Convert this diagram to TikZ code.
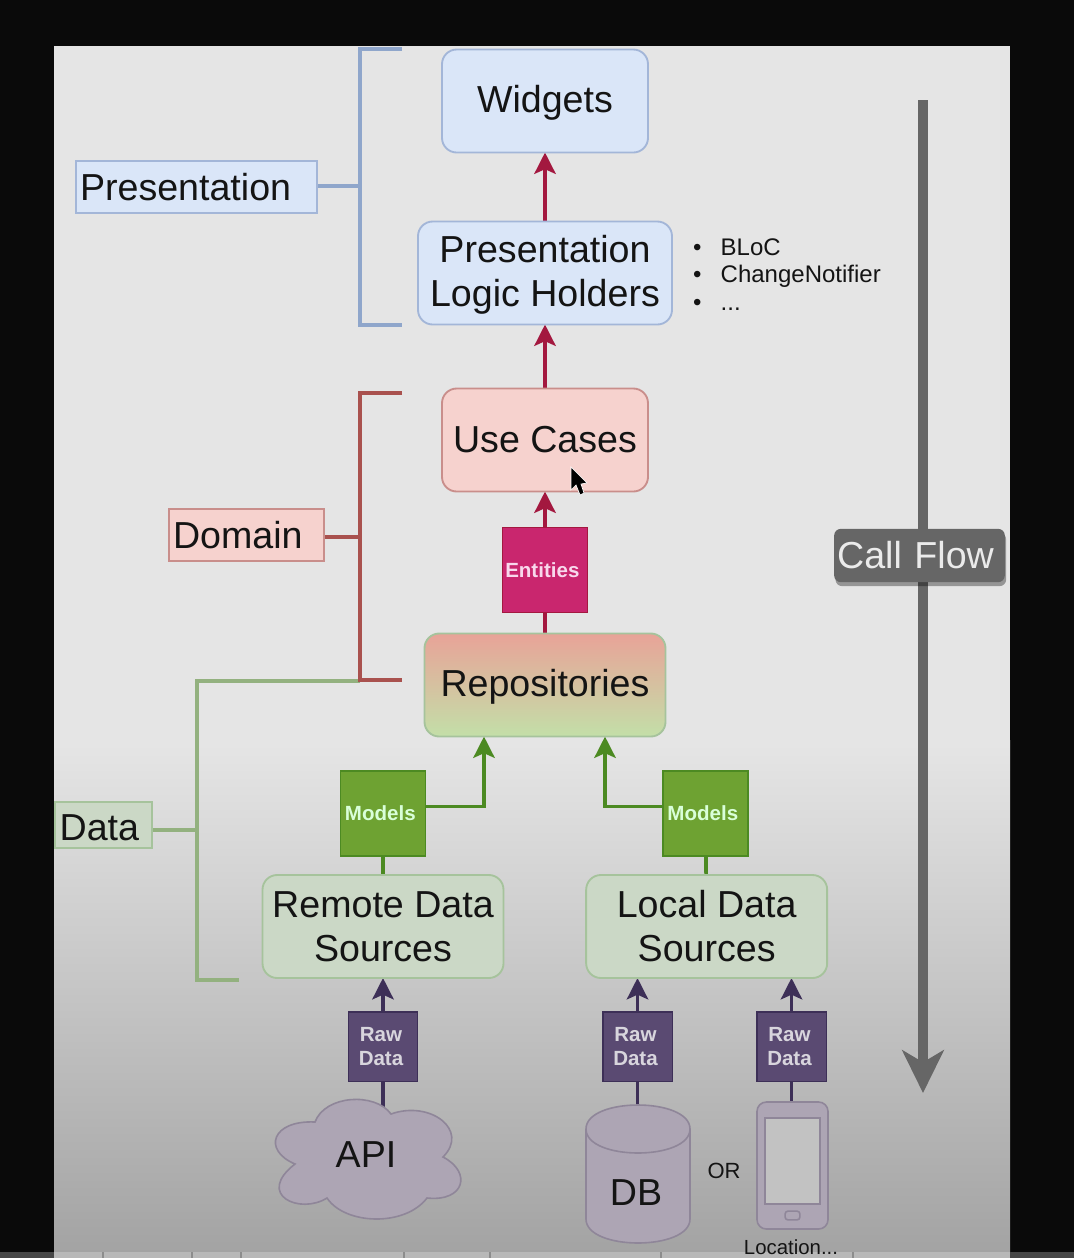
\documentclass[tikz,border=0pt]{standalone}
\usepackage{fontspec}
\setmainfont{Liberation Sans}
\usetikzlibrary{arrows.meta,positioning,backgrounds,shadows}
\definecolor{bluefill}{HTML}{DAE6F8}
\definecolor{blueline}{HTML}{A3B6D8}
\definecolor{bluebr}{HTML}{8FA6CB}
\definecolor{redfill}{HTML}{F6D2CE}
\definecolor{redline}{HTML}{C98E8B}
\definecolor{redbr}{HTML}{A9514E}
\definecolor{greenfill}{HTML}{CBD8C6}
\definecolor{greenline}{HTML}{A6C39C}
\definecolor{greenbr}{HTML}{93B17F}
\definecolor{crimson}{HTML}{A3183F}
\definecolor{berry}{HTML}{C9266E}
\definecolor{petal}{HTML}{F8D8EC}
\definecolor{leaf}{HTML}{4C8A22}
\definecolor{moss}{HTML}{6EA232}
\definecolor{grape}{HTML}{3D2F57}
\definecolor{plum}{HTML}{5A4A72}
\definecolor{stonefill}{HTML}{ADA5B4}
\definecolor{stoneline}{HTML}{8F8699}
\definecolor{repotop}{HTML}{E8A398}
\definecolor{repomid}{HTML}{CDBC9E}
\definecolor{repoend}{HTML}{C3DFA8}
\definecolor{ink}{HTML}{141414}

\begin{document}
\begin{tikzpicture}[x=0.75pt, y=-0.75pt, >=Stealth, font=\fontsize{28.2}{33}\selectfont, text=ink,
	   every node/.style={outer sep=0pt, inner sep=0pt},
	   b/.style={draw, line width=1.4pt, rounded corners=11pt, align=center, minimum height=77.25pt},
	   low/.style={text depth=3pt},
	   tag/.style={draw, line width=1.4pt, align=left, anchor=west, inner xsep=3pt},
	   chip/.style={draw, line width=1pt, align=center, font=\fontsize{15.4}{18}\selectfont\bfseries},
	   entitychip/.style={chip, draw=crimson, fill=berry, text=petal, minimum size=63.75pt, execute at end node={\kern4pt}},
	   modelchip/.style={chip, draw=leaf, fill=moss, text=green!15!white, minimum size=63.75pt, execute at end node={\kern4pt}},
	   rawchip/.style={chip, draw=grape, fill=plum, text=grape!20!white, minimum size=52pt},
	   stone/.style={draw=stoneline, fill=stonefill, line width=1.2pt},
	   up/.style={line width=2.8pt, -{Stealth[length=16pt,width=16pt,inset=3.5pt]}},
	   plain/.style={line width=2.8pt},
	   bracket/.style={line width=2.6pt}]
	  \useasboundingbox (0,0) rectangle (1074,1258);
	  \begin{scope}[on background layer]
	  \fill[black!96] (0,0) rectangle (1074,1258);
	  \fill[black!10] (54,46) rectangle (1010,741);
	  \shade[top color=black!10, bottom color=black!36] (54,740) rectangle (1010,1252);
	  \fill[black!72] (0,1252) rectangle (1074,1258);
	  \fill[black!28] (54,1252) rectangle (1010,1258);
	  \foreach \tick in {103,192,241,404,490,661,853}
	    \fill[black!45] (\tick-1,1252) rectangle (\tick+1,1258);
	  \end{scope}

	  \node[b, low, draw=blueline, fill=bluefill, minimum width=154.5pt] (widgets) at (545,101) {Widgets};
	  \node[b, low, draw=blueline, fill=bluefill, minimum width=190.5pt, below=51.75pt of widgets] (holders) {Presentation\\Logic Holders};
	  \node[b, draw=redline, fill=redfill, minimum width=154.5pt, below=48pt of holders] (usecases) {Use Cases};
	  \node[entitychip, below=27pt of usecases] (entities) {Entities};
	  \node[b, low, draw=greenline, top color=repotop, middle color=repomid, bottom color=repoend, minimum width=180.75pt, below=15.75pt of entities] (repos) {Repositories};

	  \node[modelchip] (modelsl) at (383,813.5) {Models};
	  \node[modelchip] (modelsr) at (705.5,813.5) {Models};
	  \node[b, draw=greenline, fill=greenfill, minimum width=180.75pt, below=14.25pt of modelsl] (remote) {Remote Data\\Sources};
	  \node[b, draw=greenline, fill=greenfill, minimum width=180.75pt, right=62pt of remote] (local) {Local Data\\Sources};

	  \node[rawchip] (rawa) at (383,1046.5) {Raw\kern3pt\\Data\kern3pt};
	  \node[rawchip] (rawb) at (637.5,1046.5) {Raw\kern3pt\\Data\kern3pt};
	  \node[rawchip] (rawc) at (791.5,1046.5) {Raw\kern3pt\\Data\kern3pt};

	  \draw[stone] (295,1164) .. controls (262,1150) and (272,1120) .. (315,1122)
	    .. controls (325,1095) and (375,1092) .. (391,1114)
	    .. controls (430,1100) and (470,1130) .. (443,1157)
	    .. controls (472,1172) and (465,1202) .. (427,1198)
	    .. controls (405,1227) and (345,1225) .. (327,1198)
	    .. controls (300,1215) and (255,1195) .. cycle;
	  \node (api) at (366,1155) {API};
	  \draw[stone] (586,1129) .. controls (586,1097) and (690,1097) .. (690,1129) -- (690,1219)
	    .. controls (690,1251) and (586,1251) .. (586,1219) -- cycle;
	  \draw[stone, fill=none] (586,1129) .. controls (586,1161) and (690,1161) .. (690,1129);
	  \node (db) at (636,1193) {DB};
	  \node[font=\fontsize{16.5}{20}\selectfont] (or) at (724,1171) {OR};
	  \node[stone, rounded corners=7pt, minimum width=53.25pt, minimum height=95.25pt] (phone) at (792.5,1165.5) {};
	  \node[draw=stoneline, fill=black!24, line width=1.2pt, minimum width=41.25pt, minimum height=64.5pt] (screen) at (792.5,1161) {};
	  \node[draw=stoneline, line width=1.2pt, rounded corners=2pt, minimum width=11pt, minimum height=6.5pt] (button) at (792.5,1215.5) {};
	  \node[font=\fontsize{15.3}{18}\selectfont] (location) at (791,1247) {Location...};

	  \node[font=\fontsize{18}{20.6}\selectfont, align=left, anchor=west] (notes) at (693,274.5) {\textbullet\hspace{14.5pt}BLoC\\\textbullet\hspace{14.5pt}ChangeNotifier\\\textbullet\hspace{14.5pt}...};

	  \node[tag, draw=blueline, fill=bluefill, text width=175pt, minimum height=39pt] (presentation) at (76,187) {Presentation};
	  \node[tag, draw=redline, fill=redfill, text width=110pt, minimum height=39pt] (domain) at (169,535) {Domain};
	  \node[tag, draw=greenline, fill=greenfill, text width=66pt, inner xsep=3.5pt, text height=24pt, minimum height=35pt] (data) at (55,825) {Data};

	  \node[fill=black!60, text=black!8, rounded corners=5pt, inner xsep=2.25pt, text width=123.5pt, minimum height=40pt, drop shadow={shadow xshift=1pt, shadow yshift=-3pt, opacity=.35, fill=black}] (callflow) at (919.5,555.5) {Call Flow};

	  \coordinate (pa) at (402,49);
	  \coordinate (pb) at (402,325);
	  \coordinate (pc) at (360,186);
	  \coordinate (da) at (402,393);
	  \coordinate (dz) at (402,680);
	  \coordinate (dc) at (360,537);
	  \coordinate (ga) at (360,681);
	  \coordinate (gb) at (239,980);
	  \coordinate (gc) at (197,830);
	  \coordinate (flowtop) at (923,100);
	  \coordinate (flowend) at (923,1093);
	  \coordinate (apitop) at (383,1110);
	  \coordinate (dbtop) at (638,1105);

	  \begin{scope}[on background layer]
	  \draw[bracket, bluebr] (pa) -- (360,49) -- (360,325) -- (pb);
	  \draw[bracket, bluebr] (presentation.east |- pc) -- (pc);
	  \draw[bracket, greenbr] (ga) -- (197,681) -- (197,980) -- (gb);
	  \draw[bracket, greenbr] (data.east |- gc) -- (gc);
	  \draw[bracket, redbr] (da) -- (360,393) -- (360,680) -- (dz);
	  \draw[bracket, redbr] (domain.east |- dc) -- (dc);
	  \draw[line width=8pt, black!60, -{Stealth[length=32pt,width=31pt,inset=9pt]}] (flowtop) -- (flowend);
	  \draw[up, crimson] (holders) -- (widgets);
	  \draw[up, crimson] (usecases) -- (holders);
	  \draw[up, crimson] (entities) -- (usecases);
	  \draw[plain, crimson] (repos) -- (entities);
	  \draw[up, leaf] ([yshift=5.25pt]modelsl.east) -| ([xshift=-45.75pt]repos.south);
	  \draw[up, leaf] ([yshift=5.25pt]modelsr.west) -| ([xshift=45pt]repos.south);
	  \draw[plain, leaf] (remote) -- (modelsl);
	  \draw[plain, leaf] (local) -- (modelsr);
	  \draw[up, grape] (rawa) -- (remote);
	  \draw[up, grape] (rawb) -- (rawb |- local.south);
	  \draw[up, grape] (rawc) -- (rawc |- local.south);
	  \draw[plain, grape] (rawa) -- (apitop);
	  \draw[plain, grape] (rawb) -- (rawb |- dbtop);
	  \draw[plain, grape] (rawc) -- (rawc |- phone.north);
	  \end{scope}

	  \draw[white, line width=.5pt, fill=black] (571,467) -- (571,490) -- (576,485) -- (580,495) -- (584,493) -- (581,484) -- (587,483) -- cycle;
	\end{tikzpicture}
\end{document}
